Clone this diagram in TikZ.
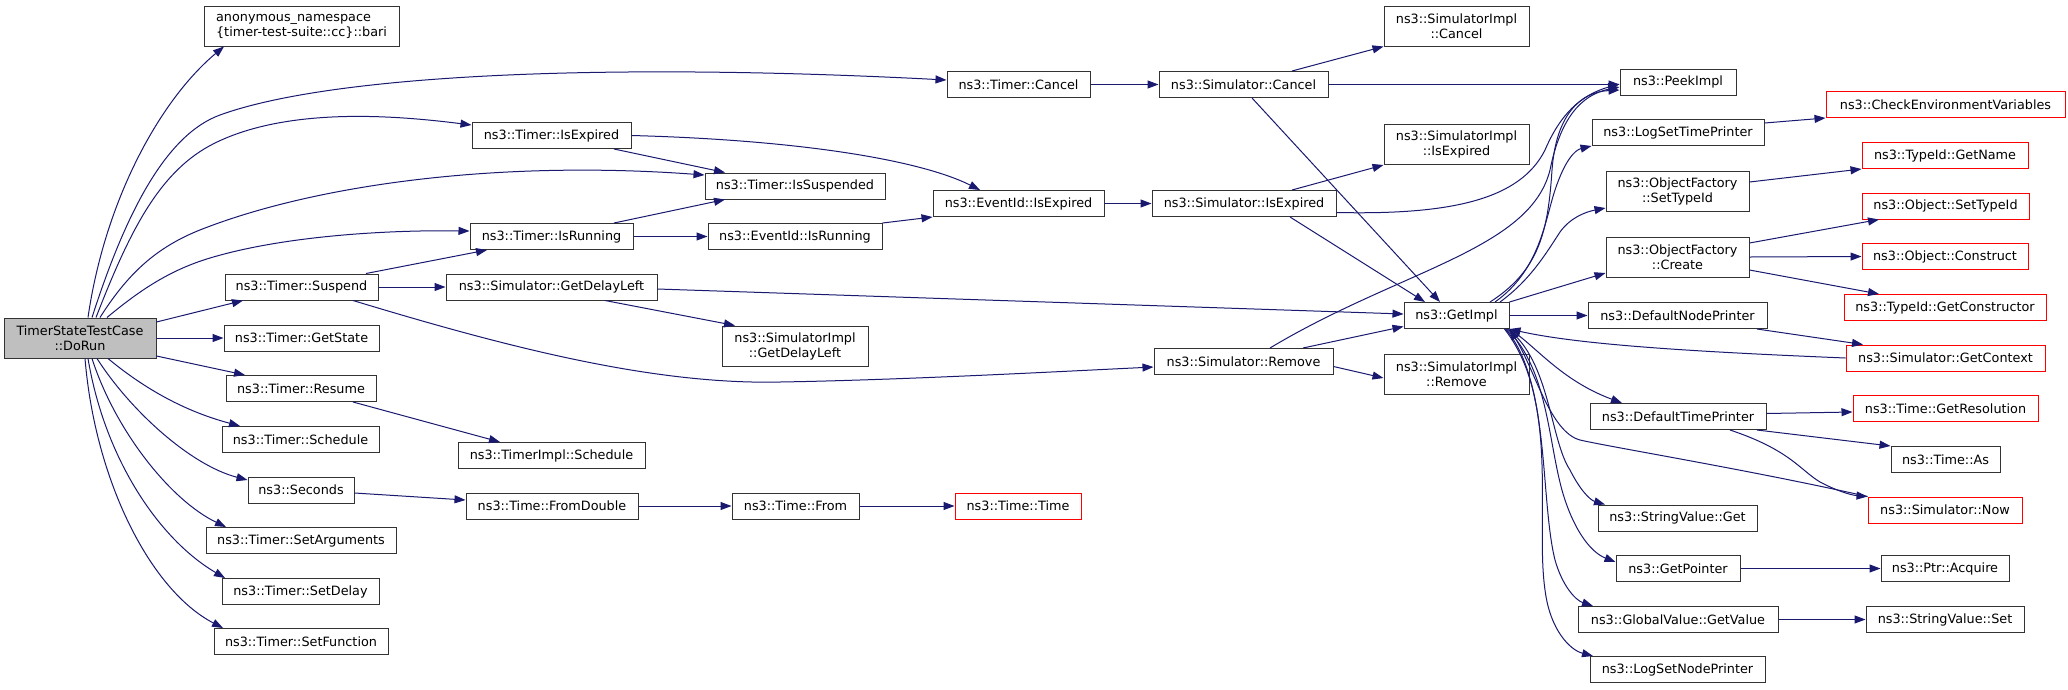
\documentclass[tikz,border=0pt]{standalone}
\usepackage{fontspec}
\newfontfamily\dfont{DejaVu Sans}
\usetikzlibrary{arrows.meta}
\definecolor{edgec}{HTML}{191970}
\definecolor{greyfill}{HTML}{BFBFBF}
\definecolor{nodeborder}{HTML}{333333}
\tikzset{
  nb/.style={draw=nodeborder, line width=1pt, fill=white, inner sep=0pt, align=center,
    minimum height=26pt, font=\dfont\fontsize{12.8}{15}\selectfont},
  rb/.style={nb, draw=red},
  tb/.style={nb, minimum height=40pt},
  e/.style={draw=edgec, line width=1pt, -{Triangle[length=11pt,width=8pt]}},
}
\begin{document}
\begin{tikzpicture}[x=1pt,y=-1pt]
\fill[white] (0,0) rectangle (2068,689);
\useasboundingbox (0,0) rectangle (2068,689);

% nodes
\node[tb, fill=greyfill, minimum width=152pt] (dorun) at (80,338) {TimerStateTestCase\\::DoRun};
\node[tb, minimum width=195pt, align=left] (anon) at (301.5,26) {anonymous\_namespace\\\{timer-test-suite::cc\}::bari};
\node[nb, minimum width=143pt] (tcancel) at (1018.5,84.5) {ns3::Timer::Cancel};
\node[nb, minimum width=169pt] (scancel) at (1243.5,84.5) {ns3::Simulator::Cancel};
\node[tb, minimum width=145pt] (ticancel) at (1456.5,26) {ns3::SimulatorImpl\\::Cancel};
\node[nb, minimum width=116pt] (peek) at (1678,82) {ns3::PeekImpl};
\node[rb, minimum width=239pt] (checkenv) at (1945.5,104.5) {ns3::CheckEnvironmentVariables};
\node[nb, minimum width=172pt] (logtime) at (1678,132.5) {ns3::LogSetTimePrinter};
\node[nb, minimum width=159pt] (tisexp) at (551.5,135.5) {ns3::Timer::IsExpired};
\node[tb, minimum width=145pt] (siisexp) at (1456.5,144.5) {ns3::SimulatorImpl\\::IsExpired};
\node[rb, minimum width=166pt] (getname) at (1945,155.5) {ns3::TypeId::GetName};
\node[tb, minimum width=143pt] (ofsettype) at (1677.5,191) {ns3::ObjectFactory\\::SetTypeId};
\node[nb, minimum width=180pt] (tissusp) at (795,186) {ns3::Timer::IsSuspended};
\node[nb, minimum width=171pt] (eisexp) at (1018.5,203.5) {ns3::EventId::IsExpired};
\node[nb, minimum width=184pt] (sisexp) at (1244,203.5) {ns3::Simulator::IsExpired};
\node[rb, minimum width=167pt] (osettype) at (1945.5,206) {ns3::Object::SetTypeId};
\node[nb, minimum width=163pt] (tisrun) at (551.5,236.5) {ns3::Timer::IsRunning};
\node[nb, minimum width=174pt] (eisrun) at (795,236.5) {ns3::EventId::IsRunning};
\node[tb, minimum width=143pt] (ofcreate) at (1677.5,257) {ns3::ObjectFactory\\::Create};
\node[rb, minimum width=166pt] (oconstruct) at (1945,256.5) {ns3::Object::Construct};
\node[nb, minimum width=153pt] (tsuspend) at (301.5,287) {ns3::Timer::Suspend};
\node[nb, minimum width=211pt] (sgetdelay) at (551.5,287) {ns3::Simulator::GetDelayLeft};
\node[rb, minimum width=202pt] (getctor) at (1945,307.5) {ns3::TypeId::GetConstructor};
\node[nb, minimum width=105pt] (getimpl) at (1456.5,315.5) {ns3::GetImpl};
\node[nb, minimum width=179pt] (defnode) at (1677.5,315.5) {ns3::DefaultNodePrinter};
\node[nb, minimum width=155pt] (tgetstate) at (301.5,338) {ns3::Timer::GetState};
\node[tb, minimum width=146pt] (sigetdelay) at (795,346) {ns3::SimulatorImpl\\::GetDelayLeft};
\node[rb, minimum width=199pt] (getctx) at (1945.5,358) {ns3::Simulator::GetContext};
\node[nb, minimum width=179pt] (sremove) at (1243.5,361.5) {ns3::Simulator::Remove};
\node[tb, minimum width=145pt] (siremove) at (1456.5,374) {ns3::SimulatorImpl\\::Remove};
\node[nb, minimum width=150pt] (tresume) at (301,388.5) {ns3::Timer::Resume};
\node[rb, minimum width=185pt] (getres) at (1945.5,408.5) {ns3::Time::GetResolution};
\node[nb, minimum width=176pt] (deftime) at (1678,416.5) {ns3::DefaultTimePrinter};
\node[nb, minimum width=157pt] (tschedule) at (300.5,439.5) {ns3::Timer::Schedule};
\node[nb, minimum width=187pt] (tischedule) at (551.5,455.5) {ns3::TimerImpl::Schedule};
\node[nb, minimum width=109pt] (timeas) at (1945.5,459.5) {ns3::Time::As};
\node[nb, minimum width=106pt] (seconds) at (301,490) {ns3::Seconds};
\node[nb, minimum width=172pt] (fromdouble) at (552,506) {ns3::Time::FromDouble};
\node[nb, minimum width=127pt] (timefrom) at (795.5,506) {ns3::Time::From};
\node[rb, minimum width=126pt] (timetime) at (1018,506) {ns3::Time::Time};
\node[rb, minimum width=154pt] (snow) at (1945,510) {ns3::Simulator::Now};
\node[nb, minimum width=159pt] (svget) at (1677.5,518) {ns3::StringValue::Get};
\node[nb, minimum width=190pt] (setargs) at (301,540.5) {ns3::Timer::SetArguments};
\node[nb, minimum width=157pt] (setdelay) at (300.5,591.5) {ns3::Timer::SetDelay};
\node[nb, minimum width=124pt] (getptr) at (1678,568.5) {ns3::GetPointer};
\node[nb, minimum width=128pt] (acquire) at (1945,568.5) {ns3::Ptr::Acquire};
\node[nb, minimum width=200pt] (gvget) at (1678,619.5) {ns3::GlobalValue::GetValue};
\node[nb, minimum width=158pt] (svset) at (1945,619.5) {ns3::StringValue::Set};
\node[nb, minimum width=174pt] (setfunc) at (301,641.5) {ns3::Timer::SetFunction};
\node[nb, minimum width=175pt] (lognode) at (1677.5,669.5) {ns3::LogSetNodePrinter};

% edges from DoRun
\draw[e] ([xshift=8]dorun.north) .. controls (105,200) and (160,100) .. ([xshift=-77.5]anon.south);
\draw[e] ([xshift=12]dorun.north) .. controls (125,215) and (165,135) .. (220,115) .. controls (330,75) and (600,62) .. ([yshift=4.5]tcancel.west);
\draw[e] ([xshift=16]dorun.north) .. controls (130,230) and (160,170) .. (215,143) .. controls (290,106) and (400,116) .. ([yshift=10.5]tisexp.west);
\draw[e] ([xshift=20]dorun.north) .. controls (130,270) and (160,245) .. (205,228) .. controls (320,184) and (500,160) .. ([yshift=11]tissusp.west);
\draw[e] ([xshift=27]dorun.north) .. controls (140,290) and (170,270) .. (210,258) .. controls (290,234) and (400,230) .. ([yshift=5.5]tisrun.west);
\draw[e] ([yshift=16]dorun.east) -- ([xshift=-58.5]tsuspend.south);
\draw[e] (dorun.east) -- (tgetstate.west);
\draw[e] ([yshift=-18]dorun.east) -- ([xshift=-56]tresume.north);
\draw[e] ([xshift=28]dorun.south) .. controls (140,385) and (180,410) .. ([xshift=-60.5]tschedule.north);
\draw[e] ([xshift=17]dorun.south) .. controls (130,410) and (190,465) .. ([yshift=10]seconds.west);
\draw[e] ([xshift=12]dorun.south) .. controls (115,430) and (170,500) .. ([xshift=-75]setargs.north);
\draw[e] ([xshift=8]dorun.south) .. controls (105,460) and (160,540) .. ([xshift=-75.5]setdelay.north);
\draw[e] ([xshift=5]dorun.south) .. controls (95,480) and (150,590) .. ([xshift=-78]setfunc.north);

% middle
\draw[e] (tcancel.east) -- (scancel.west);
\draw[e] ([xshift=48.5]scancel.north) -- (ticancel.south west);
\draw[e] (scancel.east) -- (scancel.east -| peek.west);
\draw[e] ([xshift=8.5]scancel.south) -- ([xshift=-16.5]getimpl.north);
\draw[e] ([xshift=62.5]tisexp.south) -- ([xshift=-70]tissusp.north);
\draw[e] (tisexp.east) .. controls (800,140) and (920,160) .. ([xshift=-38.5]eisexp.north);
\draw[e] ([xshift=62.5]tisrun.north) -- ([xshift=-70]tissusp.south);
\draw[e] (tisrun.east) -- (eisrun.west);
\draw[e] (eisrun.north east) -- (eisexp.south west);
\draw[e] (eisexp.east) -- (sisexp.west);
\draw[e] ([xshift=48]sisexp.north) -- (siisexp.south west);
\draw[e] ([yshift=-9]sisexp.east) .. controls (1450,215) and (1520,200) .. (1545,150) .. controls (1560,115) and (1580,95) .. ([yshift=-2]peek.west);
\draw[e] ([xshift=46]sisexp.south) -- ([xshift=-31.5]getimpl.north);
\draw[e] ([xshift=64.5]tsuspend.north) -- ([xshift=-64.5]tisrun.south);
\draw[e] (tsuspend.east) -- (sgetdelay.west);
\draw[e] ([xshift=51.5]tsuspend.south) .. controls (500,345) and (650,385) .. (780,382) .. controls (900,380) and (1050,372) .. ([yshift=-5.5]sremove.west);
\draw[e] ([yshift=-2]sgetdelay.east) -- ([yshift=1.5]getimpl.west);
\draw[e] ([xshift=53.5]sgetdelay.south) -- ([xshift=-60]sigetdelay.north);
\draw[e] ([xshift=26.5]sremove.north) .. controls (1400,270) and (1530,250) .. (1550,170) .. controls (1560,120) and (1580,95) .. ([yshift=-5]peek.west);
\draw[e] ([xshift=59.5]sremove.north) -- ([yshift=-11]getimpl.west);
\draw[e] ([yshift=-5]sremove.east) -- ([yshift=-4]siremove.west);
\draw[e] ([xshift=52]tresume.south) -- ([xshift=-51.5]tischedule.north);
\draw[e] ([yshift=-3]seconds.east) -- ([yshift=6]fromdouble.west);
\draw[e] (fromdouble.east) -- (timefrom.west);
\draw[e] (timefrom.east) -- (timetime.west);

% from GetImpl
\draw[e] ([xshift=33.5]getimpl.north) .. controls (1540,270) and (1548,230) .. (1552,170) .. controls (1556,115) and (1580,92) .. ([yshift=-8]peek.west);
\draw[e] ([xshift=38.5]getimpl.north) .. controls (1540,270) and (1545,220) .. (1555,190) .. controls (1565,160) and (1575,150) .. (logtime.south west);
\draw[e] ([xshift=43.5]getimpl.north) .. controls (1530,280) and (1545,255) .. (1560,232) .. controls (1570,218) and (1585,212) .. ([yshift=-17]ofsettype.west);
\draw[e] (getimpl.north east) -- ([yshift=-16]ofcreate.west);
\draw[e] (getimpl.east) -- (defnode.west);
\draw[e] (getimpl.south east) .. controls (1535,345) and (1560,380) .. ([xshift=-56]deftime.north);
\draw[e] ([xshift=-2]getimpl.south east) .. controls (1550,360) and (1550,440) .. (1570,470) .. controls (1580,490) and (1590,500) .. ([xshift=-72.5]svget.north);
\draw[e] ([xshift=-3]getimpl.south east) .. controls (1550,370) and (1548,450) .. (1565,500) .. controls (1575,530) and (1590,552) .. ([yshift=6.5]getptr.west);
\draw[e] ([xshift=-4]getimpl.south east) .. controls (1550,380) and (1540,500) .. (1555,560) .. controls (1562,585) and (1575,600) .. ([xshift=-85]gvget.north);
\draw[e] ([xshift=-5]getimpl.south east) .. controls (1560,400) and (1535,520) .. (1545,590) .. controls (1550,630) and (1570,650) .. ([xshift=-84.5]lognode.north);
\draw[e] (getctx.west) .. controls (1700,352) and (1580,345) .. (getimpl.south east);
\draw[e] (snow.north west) .. controls (1750,470) and (1610,447) .. (1580,440) .. controls (1550,432) and (1535,370) .. (getimpl.south east);

% right side
\draw[e] ([xshift=79.5]defnode.south) -- ([xshift=-82.5]getctx.north);
\draw[e] ([yshift=3]deftime.east) -- ([yshift=-3.5]getres.west);
\draw[e] ([xshift=79]deftime.south) -- (timeas.north west);
\draw[e] ([xshift=52]deftime.south) .. controls (1790,450) and (1800,470) .. (1820,482) .. controls (1835,490) and (1850,495) .. (snow.north west);
\draw[e] ([yshift=9.5]logtime.east) -- (checkenv.south west);
\draw[e] ([yshift=9]ofsettype.east) -- (getname.south west);
\draw[e] ([yshift=14]ofcreate.east) -- ([xshift=-66.5]osettype.south);
\draw[e] (ofcreate.east) -- (oconstruct.west);
\draw[e] ([yshift=-13]ofcreate.east) -- ([xshift=-66]getctor.north);
\draw[e] (getptr.east) -- (acquire.west);
\draw[e] (gvget.east) -- (svset.west);
\end{tikzpicture}
\end{document}
